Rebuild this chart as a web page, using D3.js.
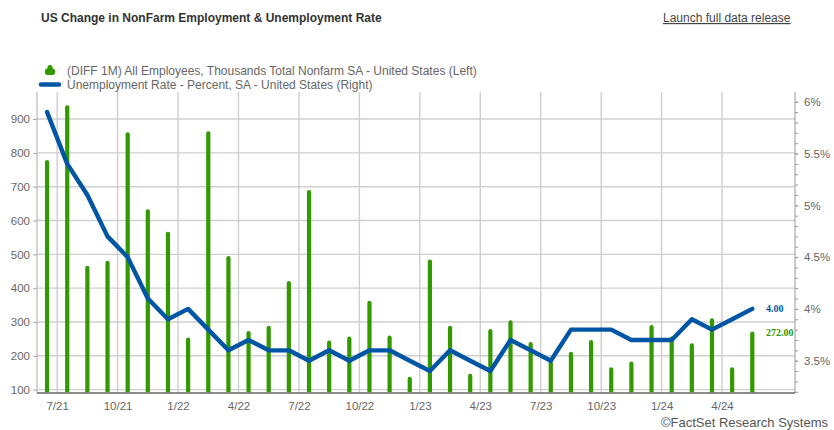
<!DOCTYPE html>
<html>
<head>
<meta charset="utf-8">
<script src="https://cdn.jsdelivr.net/npm/d3@7"></script>
<style>
  html, body { margin: 0; padding: 0; background: #fff; }
  svg { display: block; font-family: Arial, "Liberation Sans", sans-serif; }
</style>
</head>
<body>
<svg id="chart" width="834" height="430"></svg>
<script>
// Monthly observations, Jun 2021 - May 2024
const months = [
  "2021-06","2021-07","2021-08","2021-09","2021-10","2021-11","2021-12",
  "2022-01","2022-02","2022-03","2022-04","2022-05","2022-06","2022-07","2022-08","2022-09","2022-10","2022-11","2022-12",
  "2023-01","2023-02","2023-03","2023-04","2023-05","2023-06","2023-07","2023-08","2023-09","2023-10","2023-11","2023-12",
  "2024-01","2024-02","2024-03","2024-04","2024-05"
];
// Change in total nonfarm payrolls, thousands (left axis)
const payrollChange = [
  779, 941, 466, 481, 861, 633, 567,
  254, 864, 495, 273, 289, 421, 690, 245, 257, 363, 260, 138,
  485, 289, 147, 279, 305, 241, 184, 212, 247, 166, 183, 291,
  257, 237, 311, 166, 272
];
// Unemployment rate, percent (right axis)
const unemploymentRate = [
  5.9, 5.4, 5.1, 4.7, 4.5, 4.1, 3.9,
  4.0, 3.8, 3.6, 3.7, 3.6, 3.6, 3.5, 3.6, 3.5, 3.6, 3.6, 3.5,
  3.4, 3.6, 3.5, 3.4, 3.7, 3.6, 3.5, 3.8, 3.8, 3.8, 3.7, 3.7,
  3.7, 3.9, 3.8, 3.9, 4.0
];
const leftTicks = [100, 200, 300, 400, 500, 600, 700, 800, 900];
const rightTicks = [3.5, 4, 4.5, 5, 5.5, 6];
const quarterLabels = ["7/21","10/21","1/22","4/22","7/22","10/22","1/23","4/23","7/23","10/23","1/24","4/24"];

const title = "US Change in NonFarm Employment & Unemployment Rate";
const seriesNames = [
  "(DIFF 1M) All Employees, Thousands Total Nonfarm SA - United States (Left)",
  "Unemployment Rate - Percent, SA - United States (Right)"
];

const GREEN = "#339900", BLUE = "#0055a4", GRID = "#cfcfcf", TXT = "#666";
const plot = { left: 37, right: 795, top: 92, bottom: 393 };

const svg = d3.select("#chart");

// month index scale: gridlines at month starts, marks at month centres
const x = d3.scaleLinear().domain([0, 37.62]).range([plot.left, plot.right]);
const yL = d3.scaleLinear().domain([90, 980]).range([plot.bottom, plot.top]);
const yR = d3.scaleLinear().domain([3.188, 6.094]).range([plot.bottom, plot.top]);

const monthIdx = s => {
  const [y, m] = s.split("-").map(Number);
  return (y - 2021) * 12 + (m - 6);
};
const labelIdx = s => {
  const [m, yy] = s.split("/").map(Number);
  return (2000 + yy - 2021) * 12 + (m - 6);
};

// title + link text
svg.append("text").attr("x", 41).attr("y", 22)
  .attr("font-size", 12).attr("font-weight", "bold").attr("fill", "#333")
  .text(title);
svg.append("text").attr("x", 663).attr("y", 22)
  .attr("font-size", 12).attr("fill", "#444").attr("text-decoration", "underline")
  .text("Launch full data release");

// legend
const lg = svg.append("g");
lg.append("circle").attr("cx", 50).attr("cy", 67.6).attr("r", 2.6).attr("fill", GREEN);
lg.append("rect").attr("x", 45).attr("y", 68.5).attr("width", 10).attr("height", 6.5)
  .attr("rx", 2.5).attr("fill", GREEN);
lg.append("line").attr("x1", 41).attr("x2", 59).attr("y1", 84.5).attr("y2", 84.5)
  .attr("stroke", BLUE).attr("stroke-width", 4.5).attr("stroke-linecap", "round");
lg.selectAll("text.leg").data(seriesNames).join("text")
  .attr("class", "leg")
  .attr("x", 67).attr("y", (d, i) => 75 + i * 14)
  .attr("font-size", 12).attr("fill", TXT).text(d => d);

// grid
const grid = svg.append("g");
grid.selectAll("line.h").data(leftTicks).join("line").attr("class", "h")
  .attr("x1", plot.left).attr("x2", plot.right)
  .attr("y1", d => yL(d)).attr("y2", d => yL(d))
  .attr("stroke", GRID).attr("stroke-width", 1.4);
grid.selectAll("line.v").data(quarterLabels).join("line").attr("class", "v")
  .attr("y1", plot.top).attr("y2", plot.bottom)
  .attr("x1", d => x(labelIdx(d))).attr("x2", d => x(labelIdx(d)))
  .attr("stroke", GRID).attr("stroke-width", 1.4);

// left axis
const axL = svg.append("g").attr("transform", `translate(${plot.left},0)`)
  .call(d3.axisLeft(yL).tickValues(leftTicks).tickSize(4).tickPadding(3));
axL.select(".domain").attr("stroke", "#aaa").attr("d", `M0,${plot.top}V${plot.bottom}`);
axL.selectAll(".tick line").attr("stroke", "#aaa");
axL.selectAll(".tick text").attr("fill", TXT).attr("font-size", 11.5)
  .attr("font-family", "Arial, 'Liberation Sans', sans-serif");

// right axis with minor ticks every 0.1
const minor = d3.range(32, 61).map(v => v / 10);
const axRm = svg.append("g").attr("transform", `translate(${plot.right},0)`)
  .call(d3.axisRight(yR).tickValues(minor).tickSize(3).tickFormat(""));
axRm.select(".domain").attr("stroke", "#999").attr("d", `M0,${plot.top}V${plot.bottom}`);
axRm.selectAll(".tick line").attr("stroke", "#999");
const axR = svg.append("g").attr("transform", `translate(${plot.right},0)`)
  .call(d3.axisRight(yR).tickValues(rightTicks).tickSize(3).tickPadding(6)
    .tickFormat(d => d3.format("~g")(d) + "%"));
axR.select(".domain").remove();
axR.selectAll(".tick line").attr("stroke", "#999");
axR.selectAll(".tick text").attr("fill", TXT).attr("font-size", 11.5)
  .attr("font-family", "Arial, 'Liberation Sans', sans-serif");

// bottom axis
const qIdx = quarterLabels.map(labelIdx);
const axB = svg.append("g").attr("transform", `translate(0,${plot.bottom})`)
  .call(d3.axisBottom(x).tickValues(qIdx).tickSize(0).tickPadding(9)
    .tickFormat(i => quarterLabels[qIdx.indexOf(i)]));
axB.select(".domain").attr("stroke", "#666").attr("stroke-width", 1.5)
  .attr("d", `M${plot.left},0H${plot.right}`);
axB.selectAll(".tick text").attr("fill", TXT).attr("font-size", 11.5)
  .attr("font-family", "Arial, 'Liberation Sans', sans-serif");

// clip
svg.append("clipPath").attr("id", "plotclip").append("rect")
  .attr("x", plot.left).attr("y", plot.top - 10)
  .attr("width", plot.right - plot.left).attr("height", plot.bottom - plot.top + 9.3);

const marks = svg.append("g").attr("clip-path", "url(#plotclip)");
const barW = 4.2;
marks.selectAll("rect.bar").data(months).join("rect").attr("class", "bar")
  .attr("x", d => x(monthIdx(d) + 0.5) - barW / 2)
  .attr("width", barW)
  .attr("y", (d, i) => yL(payrollChange[i]))
  .attr("height", (d, i) => plot.bottom + 4 - yL(payrollChange[i]))
  .attr("rx", barW / 2)
  .attr("fill", GREEN);

const line = d3.line()
  .x((d, i) => x(monthIdx(months[i]) + 0.5))
  .y(d => yR(d));
svg.append("path").datum(unemploymentRate)
  .attr("d", line).attr("fill", "none")
  .attr("stroke", BLUE).attr("stroke-width", 4.4)
  .attr("stroke-linejoin", "round").attr("stroke-linecap", "round");

// last-value labels
const lastI = months.length - 1;
svg.append("text").attr("x", 766).attr("y", yR(unemploymentRate[lastI])).attr("dy", "0.35em")
  .attr("font-family", "'Liberation Serif', 'DejaVu Serif', serif").attr("font-weight", "bold")
  .attr("font-size", 10).attr("fill", BLUE).text(unemploymentRate[lastI].toFixed(2));
svg.append("text").attr("x", 766).attr("y", yL(payrollChange[lastI]) + 1).attr("dy", "0.35em")
  .attr("font-family", "'Liberation Serif', 'DejaVu Serif', serif").attr("font-weight", "bold")
  .attr("font-size", 10).attr("fill", GREEN).text(payrollChange[lastI].toFixed(2));

// source
svg.append("text").attr("x", 828).attr("y", 427).attr("text-anchor", "end")
  .attr("font-size", 13).attr("fill", "#555").text("\u00a9FactSet Research Systems");
</script>
</body>
</html>
